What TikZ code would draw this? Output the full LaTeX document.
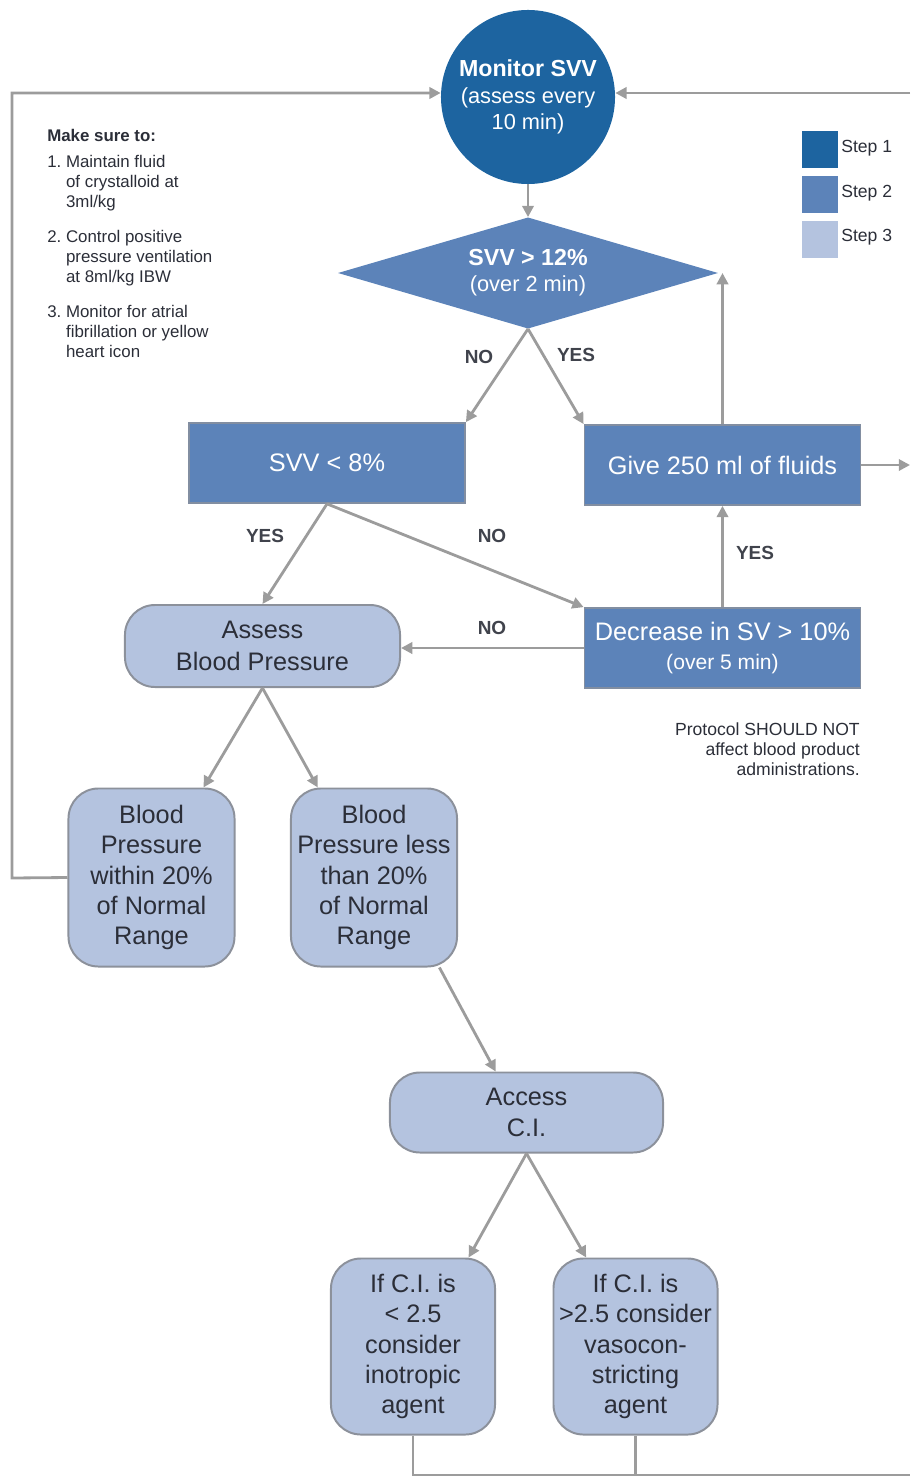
\documentclass[tikz,border=0pt]{standalone}
\usepackage{fontspec}
\setmainfont{Liberation Sans}
\usepackage{xcolor}
\usetikzlibrary{shapes.geometric,arrows.meta}

\definecolor{stepone}{HTML}{1D64A0}
\definecolor{steptwo}{HTML}{5C83B9}
\definecolor{stepthree}{HTML}{B4C3DF}
\definecolor{linegray}{HTML}{9C9C9C}
\definecolor{boxedge}{HTML}{8C919B}
\definecolor{txtdark}{HTML}{2B2E38}
\newcommand{\indt}{\hspace*{0.47cm}}

\begin{document}
\begin{tikzpicture}[
    x=0.025cm, y=-0.025cm,
    big/.style={font=\fontsize{18}{21.5}\selectfont},
    stepbox/.style={draw=boxedge!80!steptwo, line width=1.2pt, fill=steptwo, text=white, align=center, inner sep=0pt, minimum width=6.9cm, minimum height=2cm, big},
    roundbox/.style={draw=boxedge, line width=1.4pt, fill=stepthree, text=txtdark, rounded corners=0.75cm, align=center, inner sep=0pt, big},
    tallbox/.style={roundbox, minimum width=4.15cm, minimum height=4.45cm},
    answer/.style={font=\fontsize{13.5}{16}\selectfont\bfseries, text=txtdark!90},
    legbox/.style={minimum size=0.9cm, inner sep=0pt},
    legtext/.style={anchor=west, font=\fontsize{12.5}{15}\selectfont, text=txtdark, inner sep=0pt},
    line/.style={-{Triangle[length=8pt,width=8pt]}, draw=linegray, line width=2pt},
    link/.style={draw=linegray, line width=2pt}
]
\useasboundingbox (0,0) rectangle (910,1478);

% step 1 and 2
\node[circle, fill=stepone, text=white, minimum size=4.35cm, inner sep=0pt, align=center,
      font=\fontsize{15.5}{18.8}\selectfont] (mon) at (528,97)
      {{\fontsize{16.5}{18.8}\selectfont\bfseries Monitor SVV}\\(assess every\\10 min)};
\node[diamond, aspect=3.42, fill=steptwo, text=white, minimum width=9.5cm, minimum height=2.78cm, inner sep=0pt,
      align=center, font=\fontsize{15.5}{18.5}\selectfont] (svvhigh) at (528,273)
      {{\fontsize{16.5}{18.5}\selectfont\bfseries SVV > 12\%}\\(over 2 min)};
\node[stepbox] (svvlow) at (327,463) {SVV < 8\%};
\node[stepbox] (fluids) at (722.5,465) {Give 250 ml of fluids};
\node[stepbox] (decrsv) at (722.5,648)
      {Decrease in SV > 10\%\\[-1pt]{\fontsize{15}{18}\selectfont(over 5 min)}};

% step 3
\node[roundbox, minimum width=6.875cm, minimum height=2.05cm] (assessbp) at (262.5,646)
      {Assess\\[1pt]Blood Pressure};
\node[tallbox] (bpok) at (151.5,877.5) {Blood\\Pressure\\within 20\%\\of Normal\\Range};
\node[tallbox] (bplow) at (374,877.5) {Blood\\Pressure less\\than 20\%\\of Normal\\Range};
\node[roundbox, minimum width=6.825cm, minimum height=2cm] (accci) at (526.5,1112.5)
      {Access\\[1pt]C.I.};
\node[tallbox, minimum width=4.1cm, minimum height=4.4cm] (cilow) at (413,1346.5)
      {If C.I. is\\< 2.5\\consider\\inotropic\\agent};
\node[tallbox, minimum width=4.1cm, minimum height=4.4cm] (cihigh) at (635.5,1346.5)
      {If C.I. is\\>2.5 consider\\vasocon-\\stricting\\agent};

% legend
\node[legbox, fill=stepone] (leg1) at (820,149.5) {};
\node[legbox, fill=steptwo] (leg2) at (820,194.5) {};
\node[legbox, fill=stepthree] (leg3) at (820,239.5) {};
\node[legtext] (legt1) at (841,148) {Step 1};
\node[legtext] (legt2) at (841,193) {Step 2};
\node[legtext] (legt3) at (841,237) {Step 3};

% notes
\node[anchor=north west, align=left, inner sep=0pt, text=txtdark,
      font=\fontsize{12}{14.2}\selectfont] (makesure) at (47,129)
      {\textbf{Make sure to:}\\[4pt]
       1.\ Maintain fluid\\\indt of crystalloid at\\\indt 3ml/kg\\[11pt]
       2.\ Control positive\\\indt pressure ventilation\\\indt at 8ml/kg IBW\\[11pt]
       3.\ Monitor for atrial\\\indt fibrillation or yellow\\\indt heart icon};
\node[anchor=north east, align=right, inner sep=0pt, text=txtdark,
      font=\fontsize{12.5}{14.5}\selectfont] (protocol) at (860,722)
      {Protocol SHOULD NOT\\affect blood product\\administrations.};

% answers
\node[answer] (no1) at (479,357) {NO};
\node[answer] (yes1) at (576,355) {YES};
\node[answer] (yes2) at (265,536) {YES};
\node[answer] (no2) at (492,536) {NO};
\node[answer] (no3) at (492,628) {NO};
\node[answer] (yes3) at (755,553) {YES};

% free ends
\coordinate (lft) at (12,878);
\coordinate (rtop) at (910,93);
\coordinate (rmid) at (910,465);
\coordinate (botR) at (910,1475);

% connectors
\draw[line] (bpok.west) -- (lft) |- (mon.west |- rtop);
\draw[line] (rtop) -- (mon.east |- rtop);
\draw[line] (mon.south) -- (svvhigh.north);
\draw[line] (svvhigh.south) -- (svvlow.north east);
\draw[line] (svvhigh.south) -- (fluids.north west);
\draw[line] (fluids.north) -- (fluids.north |- svvhigh.east);
\draw[line] (fluids.east) -- (rmid);
\draw[line] (svvlow.south) -- (assessbp.north);
\draw[line] (svvlow.south) -- (decrsv.north west);
\draw[line] (decrsv.north) -- (fluids.south);
\draw[line] (decrsv.west) -- (decrsv.west -| assessbp.east);
\draw[line] (assessbp.south) -- (bpok.60);
\draw[line] (assessbp.south) -- (bplow.122);
\draw[line] (bplow.-54) -- (accci.127);
\draw[line] (accci.south) -- (cilow.58);
\draw[line] (accci.south) -- (cihigh.119);
\draw[link] (cilow.south) |- (botR);
\draw[link] (cihigh.south) -- (cihigh.south |- botR);

\end{tikzpicture}
\end{document}
